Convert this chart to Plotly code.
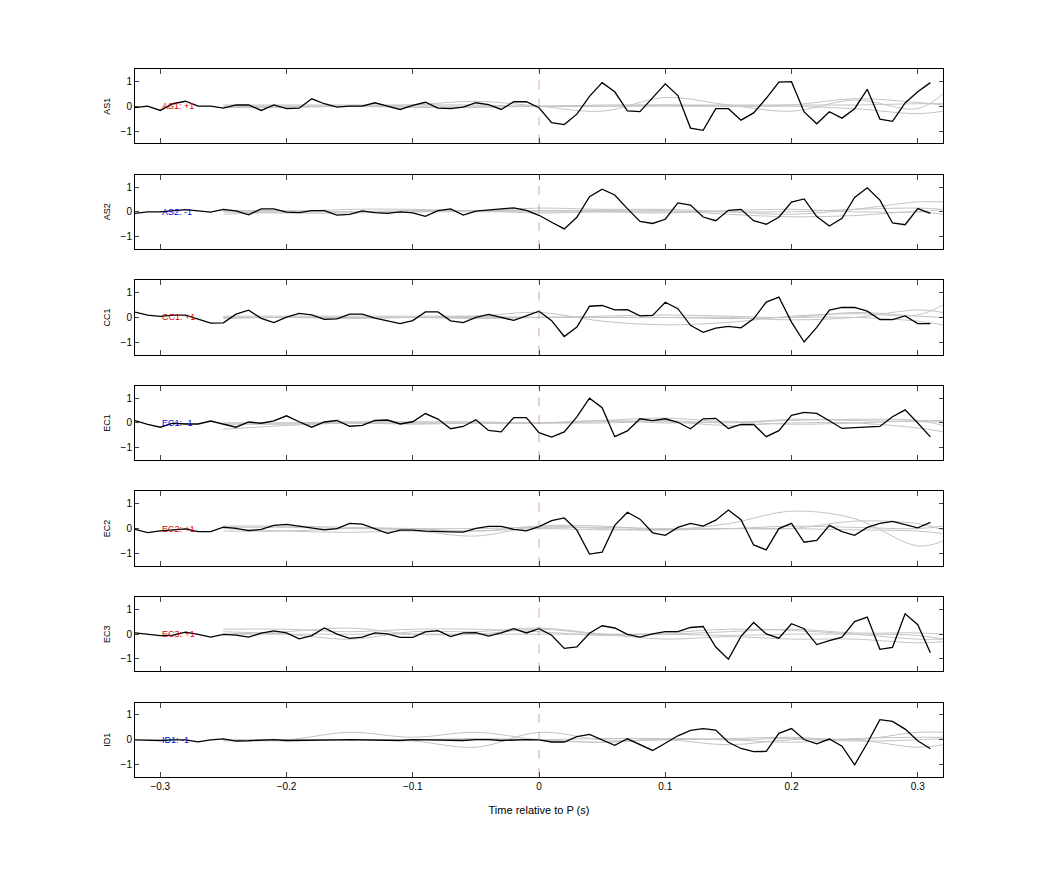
import numpy as np
import plotly.graph_objects as go
from plotly.subplots import make_subplots

# time axes
t = np.round(np.arange(-0.32, 0.315, 0.01), 2)
t_gray = [-0.25, -0.2, -0.15, -0.1, -0.05, 0.0, 0.05, 0.1, 0.15, 0.2, 0.25, 0.3, 0.32]

stations = ['AS1', 'AS2', 'CC1', 'EC1', 'EC2', 'EC3', 'ID1']
polarity = ['+1', '-1', '+1', '-1', '+1', '+1', '-1']

as1 = [-0.06, 0.0, -0.17, 0.1, 0.2, 0.0, 0.0, -0.08, 0.05, 0.05, -0.17, 0.05, -0.1, -0.08, 0.3, 0.1,
       -0.04, 0.0, 0.0, 0.14, 0.0, -0.13, 0.03, 0.16, -0.08, -0.1, -0.04, 0.14, 0.06, -0.13, 0.18, 0.18,
       -0.06, -0.66, -0.74, -0.32, 0.4, 0.95, 0.58, -0.19, -0.22, 0.35, 0.9, 0.43, -0.88, -0.97, -0.1, -0.1,
       -0.56, -0.27, 0.32, 0.97, 0.99, -0.23, -0.71, -0.22, -0.48, -0.1, 0.68, -0.52, -0.61, 0.13, 0.58, 0.95]
as2 = [-0.06, 0.0, 0.0, 0.05, 0.09, 0.04, -0.01, 0.1, 0.04, -0.12, 0.12, 0.12, -0.01, -0.03, 0.05, 0.05,
       -0.13, -0.1, 0.04, -0.03, -0.06, 0.0, -0.04, -0.18, 0.05, 0.12, -0.13, 0.03, 0.08, 0.13, 0.16, 0.06,
       -0.14, -0.42, -0.69, -0.22, 0.61, 0.91, 0.68, 0.13, -0.39, -0.47, -0.3, 0.36, 0.27, -0.21, -0.36, 0.06,
       0.1, -0.36, -0.5, -0.22, 0.39, 0.52, -0.19, -0.57, -0.26, 0.58, 0.97, 0.47, -0.45, -0.52, 0.13, -0.06]
cc1 = [0.21, 0.09, 0.04, 0.09, 0.09, -0.06, -0.23, -0.22, 0.13, 0.29, -0.04, -0.21, 0.01, 0.16, 0.1, -0.08,
       -0.06, 0.13, 0.13, -0.03, -0.13, -0.25, -0.13, 0.22, 0.22, -0.14, -0.21, 0.0, 0.12, 0.0, -0.12, 0.06,
       0.25, -0.13, -0.77, -0.39, 0.45, 0.48, 0.3, 0.31, 0.06, 0.08, 0.61, 0.35, -0.32, -0.6, -0.43, -0.36,
       -0.42, -0.06, 0.62, 0.82, -0.19, -0.99, -0.4, 0.29, 0.4, 0.4, 0.25, -0.09, -0.09, 0.06, -0.25, -0.25]
ec1 = [0.1, -0.06, -0.17, -0.01, -0.04, -0.04, 0.08, -0.06, -0.17, 0.04, -0.01, 0.09, 0.29, 0.05, -0.17, 0.04,
       0.1, -0.13, -0.1, 0.1, 0.12, -0.04, 0.05, 0.38, 0.16, -0.23, -0.14, 0.13, -0.3, -0.36, 0.22, 0.22,
       -0.39, -0.57, -0.36, 0.25, 1.0, 0.62, -0.55, -0.32, 0.17, 0.1, 0.17, 0.03, -0.23, 0.17, 0.19, -0.22,
       -0.06, -0.06, -0.55, -0.31, 0.31, 0.43, 0.39, 0.09, -0.22, -0.19, -0.17, -0.14, 0.25, 0.53, 0.0, -0.56]
ec2 = [-0.03, -0.16, -0.09, -0.04, -0.01, -0.12, -0.12, 0.06, 0.01, -0.08, -0.03, 0.13, 0.17, 0.1, 0.04, -0.05,
       0.0, 0.21, 0.18, -0.01, -0.19, -0.06, -0.06, -0.1, -0.1, -0.13, -0.14, 0.01, 0.09, 0.09, -0.03, -0.09,
       0.08, 0.32, 0.43, -0.06, -1.03, -0.95, 0.13, 0.66, 0.38, -0.17, -0.27, 0.05, 0.21, 0.1, 0.34, 0.75,
       0.36, -0.66, -0.86, 0.0, 0.21, -0.55, -0.48, 0.13, -0.12, -0.27, 0.05, 0.21, 0.29, 0.16, 0.03, 0.25]
ec3 = [0.05, -0.01, -0.06, -0.04, 0.08, -0.01, -0.12, -0.01, -0.04, -0.12, 0.04, 0.13, 0.05, -0.19, -0.06, 0.25,
       0.0, -0.17, -0.12, 0.05, 0.01, -0.13, -0.13, 0.09, 0.14, -0.1, 0.05, 0.06, -0.08, 0.05, 0.22, 0.05,
       0.22, -0.04, -0.57, -0.51, 0.04, 0.34, 0.25, -0.01, -0.12, 0.01, 0.1, 0.1, 0.27, 0.31, -0.52, -1.01,
       -0.09, 0.47, 0.01, -0.16, 0.42, 0.22, -0.42, -0.26, -0.12, 0.51, 0.69, -0.61, -0.53, 0.82, 0.38, -0.75]
id1 = [0.0, -0.03, -0.03, 0.0, 0.0, -0.08, 0.0, 0.04, -0.05, -0.04, 0.0, 0.01, -0.03, -0.03, -0.03, -0.01,
       0.0, 0.01, 0.0, 0.0, -0.03, -0.03, 0.01, 0.0, 0.0, 0.01, -0.03, 0.01, 0.01, -0.03, 0.0, 0.01,
       0.0, -0.09, -0.09, 0.13, 0.22, 0.0, -0.22, 0.04, -0.19, -0.43, -0.14, 0.16, 0.38, 0.45, 0.39, -0.1,
       -0.35, -0.48, -0.47, 0.26, 0.45, 0.01, -0.16, 0.03, -0.26, -1.01, -0.14, 0.81, 0.74, 0.43, -0.04, -0.36]
black = [as1, as2, cc1, ec1, ec2, ec3, id1]

# other (gray) traces, sampled on t_gray
gray_as1 = [[0, 0, 0, 0.05, 0.2, 0, -0.2, 0.35, 0.05, -0.2, 0.25, -0.1, 0.5],
            [0.05, 0.05, 0.05, 0.05, 0.05, 0, 0.05, 0.05, 0.05, 0.05, 0.05, 0.1, 0.1],
            [-0.05, -0.05, 0, 0, 0, 0, 0, 0, 0, 0.05, 0.3, 0.15, 0.05],
            [0, 0, 0, -0.05, -0.05, 0, 0, 0.05, 0, 0, -0.1, -0.3, -0.2]]
gray_as2 = [[-0.1, 0, 0.1, 0.1, 0.05, 0.15, 0.1, 0.1, 0, -0.1, 0.1, 0.4, 0.4],
            [0.05, 0.05, 0, 0, 0.05, -0.05, 0, -0.05, 0.05, 0.1, 0, 0, 0.1],
            [0, 0, 0, 0.05, 0.05, 0.05, 0.05, 0.05, -0.1, -0.2, -0.15, 0, -0.1],
            [0, -0.05, -0.05, 0, 0, 0, 0, 0, 0, 0, 0.1, 0.15, 0.1]]
gray_cc1 = [[0, 0, 0, 0, 0.05, 0.2, -0.15, -0.3, -0.2, 0.05, 0.15, 0.1, 0.5],
            [0.05, 0.05, 0.05, 0.05, 0.05, 0, 0.05, 0.1, 0.05, 0, 0.2, 0.05, 0],
            [0, 0, 0, 0, 0, 0, 0, 0, 0, -0.1, 0, 0.3, 0.2],
            [-0.05, 0, -0.05, 0, -0.05, 0, 0, 0, -0.05, 0, 0, -0.15, -0.3]]
gray_ec1 = [[-0.25, -0.1, 0, 0, 0, 0, 0.1, 0.2, 0.05, 0.1, 0.15, 0.1, -0.1],
            [0, 0, 0.05, 0.05, 0.05, 0, 0.05, 0.1, 0, 0.15, 0.1, 0.05, 0.05],
            [0, 0, 0, 0, 0, 0, 0, 0.05, -0.1, 0, 0, -0.2, -0.35],
            [-0.05, -0.05, 0, -0.05, 0, 0, 0.1, 0, 0.05, -0.05, 0, 0.1, 0.1]]
gray_ec2 = [[0.1, 0.1, 0.05, 0, -0.1, 0.1, 0, -0.05, 0.2, 0.7, 0.4, -0.7, -0.5],
            [0, -0.1, -0.15, -0.1, -0.3, 0.1, 0.1, -0.05, 0, 0, 0.3, 0.2, -0.05],
            [0.05, 0.05, 0, 0, 0, 0.05, 0.05, 0, 0, 0.1, 0.05, 0, 0.1],
            [-0.1, -0.1, 0, -0.05, -0.1, 0, -0.05, -0.05, 0, 0, -0.05, -0.1, -0.2]]
gray_ec3 = [[0.2, 0.2, 0.1, 0.2, 0.2, 0.1, -0.05, 0.05, 0.2, 0.15, 0, -0.2, -0.2],
            [0.1, 0, -0.2, 0.1, 0.1, 0.25, 0, -0.2, -0.1, -0.2, -0.2, -0.35, -0.3],
            [0, 0.1, 0.25, 0, 0, 0.2, 0, 0, 0.1, 0.2, 0.05, 0.05, 0],
            [0, 0, 0, 0, 0, 0, 0, 0, -0.05, 0, 0, -0.05, -0.2]]
gray_id1 = [[0, 0, 0.3, 0.1, 0.3, 0, -0.1, 0, -0.2, 0, 0, -0.3, -0.2],
            [0, 0, 0, -0.05, -0.3, 0.3, 0, 0, 0.05, 0.1, 0, 0.3, 0.3],
            [-0.05, 0, 0, 0, 0, 0, 0.05, 0.05, 0, -0.1, 0.05, 0.1, 0.1],
            [0, -0.05, 0, 0, 0.05, 0, -0.1, 0.05, 0, 0.05, -0.05, 0, 0.05]]
gray = [gray_as1, gray_as2, gray_cc1, gray_ec1, gray_ec2, gray_ec3, gray_id1]

n = len(stations)
fig = make_subplots(rows=n, cols=1, shared_xaxes=True, vertical_spacing=0.044)

for i in range(n):
    r = i + 1
    for g in gray[i]:
        fig.add_trace(go.Scatter(x=t_gray, y=g, mode='lines', line=dict(color='#c4c4c4', width=1, shape='spline'),
                                 showlegend=False, hoverinfo='skip'), row=r, col=1)
    fig.add_trace(go.Scatter(x=t, y=black[i], mode='lines', line=dict(color='black', width=1.3),
                             showlegend=False, name=stations[i]), row=r, col=1)
    # P arrival marker
    fig.add_trace(go.Scatter(x=[0, 0], y=[-1.5, 1.5], mode='lines',
                             line=dict(color='rgba(190,130,130,0.7)', width=1, dash='dash'),
                             showlegend=False, hoverinfo='skip'), row=r, col=1)
    col = '#dd0000' if polarity[i] == '+1' else '#0000dd'
    fig.add_annotation(x=-0.3, y=0, text=f'{stations[i]}: {polarity[i]}', showarrow=False, xanchor='left',
                       font=dict(size=9, color=col), row=r, col=1)
    fig.update_yaxes(title_text=stations[i], row=r, col=1)

fig.update_yaxes(range=[-1.5, 1.5], tickvals=[-1, 0, 1], ticks='inside', ticklen=4, showline=True, mirror='ticks',
                 linecolor='black', linewidth=1, showgrid=False, zeroline=False, title_font=dict(size=9),
                 title_standoff=8)
fig.update_xaxes(range=[-0.32, 0.32], tickvals=[-0.3, -0.2, -0.1, 0, 0.1, 0.2, 0.3], ticks='inside', ticklen=5,
                 showline=True, mirror='ticks', linecolor='black', linewidth=1, showgrid=False, zeroline=False)
fig.update_xaxes(title_text='Time relative to P (s)', title_font=dict(size=11), row=n, col=1)

fig.update_layout(width=1042, height=875, plot_bgcolor='white', paper_bgcolor='white',
                  margin=dict(l=127, r=107, t=61, b=106),
                  font=dict(family='Liberation Sans, Arial, sans-serif', size=10, color='black'))

fig.write_html('out.html')
